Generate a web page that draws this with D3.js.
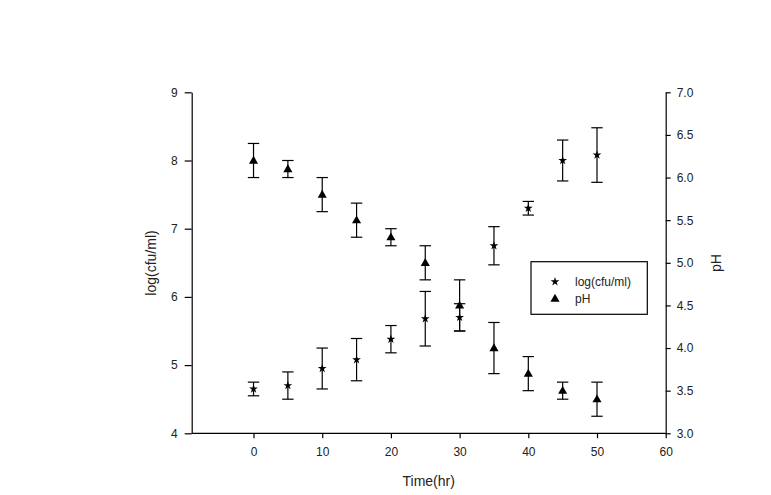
<!DOCTYPE html>
<html>
<head>
<meta charset="utf-8">
<script src="https://cdn.jsdelivr.net/npm/d3@7"></script>
<style>
html,body{margin:0;padding:0;background:#fff;}
svg{display:block;font-family:Arial,"Liberation Sans",sans-serif;}
</style>
</head>
<body>
<svg id="chart" width="771" height="495"></svg>
<script>
const times = [0, 5, 10, 15, 20, 25, 30, 35, 40, 45, 50];
const logCfu = [4.65, 4.70, 4.95, 5.08, 5.38, 5.68, 5.70, 6.75, 7.30, 8.00, 8.08];
const logCfuErr = [0.10, 0.20, 0.30, 0.31, 0.20, 0.40, 0.20, 0.28, 0.10, 0.30, 0.40];
const pH = [6.20, 6.10, 5.80, 5.50, 5.30, 5.00, 4.50, 4.00, 3.70, 3.50, 3.40];
const pHErr = [0.20, 0.10, 0.20, 0.20, 0.10, 0.20, 0.30, 0.30, 0.20, 0.10, 0.20];
const xTicks = [0, 10, 20, 30, 40, 50, 60];
const leftTicks = [4, 5, 6, 7, 8, 9];
const rightTicks = [3.0, 3.5, 4.0, 4.5, 5.0, 5.5, 6.0, 6.5, 7.0];
const legendLabels = ["log(cfu/ml)", "pH"];

const svg = d3.select("#chart");
const L = 191.7, R = 665.7, T = 92.3, B = 433.3;

const x = d3.scaleLinear().domain([-9, 60]).range([L, R]);
const yL = d3.scaleLinear().domain([4, 9]).range([B, T]);
const yR = d3.scaleLinear().domain([3, 7]).range([B, T]);

const textColor = "#222";

// axes
const xAxis = svg.append("g").attr("transform", `translate(0,${B})`)
  .call(d3.axisBottom(x).tickValues(xTicks).tickFormat(d3.format("d")).tickSize(5).tickPadding(9).tickSizeOuter(0));
const lAxis = svg.append("g").attr("transform", `translate(${L},0)`)
  .call(d3.axisLeft(yL).tickValues(leftTicks).tickFormat(d3.format("d")).tickSize(7).tickPadding(7).tickSizeOuter(0));
const rAxis = svg.append("g").attr("transform", `translate(${R},0)`)
  .call(d3.axisRight(yR).tickValues(rightTicks).tickFormat(d3.format(".1f")).tickSize(5).tickPadding(6).tickSizeOuter(0));

[xAxis, lAxis, rAxis].forEach(g => {
  g.select(".domain").attr("stroke", "#000").attr("stroke-width", 1.2);
  g.selectAll(".tick line").attr("stroke", "#000").attr("stroke-width", 1.2);
  g.selectAll(".tick text").attr("fill", textColor).style("font-size", "12px")
    .style("font-family", "Arial, 'Liberation Sans', sans-serif");
});
xAxis.select(".domain").attr("d", `M${L},0H${R}`);

// axis titles
svg.append("text").attr("x", (L + R) / 2).attr("y", 486).attr("text-anchor", "middle")
  .attr("fill", textColor).style("font-size", "14px").text("Time(hr)");
svg.append("text").attr("transform", `translate(156,263) rotate(-90)`).attr("text-anchor", "middle")
  .attr("fill", textColor).style("font-size", "14px").text("log(cfu/ml)");
svg.append("text").attr("transform", `translate(721,263) rotate(-90)`).attr("text-anchor", "middle")
  .attr("fill", textColor).style("font-size", "14px").text("pH");

const capW = 5.7;
function errorBars(vals, errs, scale) {
  const g = svg.append("g").attr("stroke", "#000").attr("stroke-width", 1.2).attr("fill", "none");
  times.forEach((t, i) => {
    const cx = x(t), y1 = scale(vals[i] + errs[i]), y2 = scale(vals[i] - errs[i]);
    g.append("line").attr("x1", cx).attr("x2", cx).attr("y1", y1).attr("y2", y2);
    g.append("line").attr("x1", cx - capW).attr("x2", cx + capW).attr("y1", y1).attr("y2", y1);
    g.append("line").attr("x1", cx - capW).attr("x2", cx + capW).attr("y1", y2).attr("y2", y2);
  });
}
errorBars(logCfu, logCfuErr, yL);
errorBars(pH, pHErr, yR);

const star = d3.symbol().type(d3.symbolStar).size(24);
const tri = d3.symbol().type(d3.symbolTriangle).size(36);

svg.append("g").selectAll("path").data(times).join("path")
  .attr("d", star).attr("fill", "#000")
  .attr("transform", (t, i) => `translate(${x(t)},${yL(logCfu[i])})`);
svg.append("g").selectAll("path").data(times).join("path")
  .attr("d", tri).attr("fill", "#000")
  .attr("transform", (t, i) => `translate(${x(t)},${yR(pH[i]) + 0.5})`);

// legend
const lg = svg.append("g");
lg.append("rect").attr("x", 531).attr("y", 261.7).attr("width", 116.3).attr("height", 52.6)
  .attr("fill", "#fff").attr("stroke", "#000").attr("stroke-width", 1.2);
const legendSyms = [star, tri];
legendLabels.forEach((lab, i) => {
  const yy = 281.7 + i * 17.3;
  lg.append("path").attr("d", legendSyms[i]).attr("fill", "#000")
    .attr("transform", `translate(555,${yy})`);
  lg.append("text").attr("x", 575).attr("y", yy + 4).attr("fill", textColor)
    .style("font-size", "12px").text(lab);
});
</script>
</body>
</html>
